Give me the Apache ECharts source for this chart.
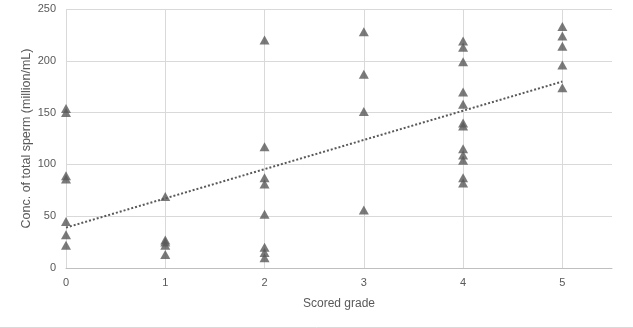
<!DOCTYPE html>
<html>
<head>
<meta charset="utf-8">
<script src="https://cdn.jsdelivr.net/npm/echarts@6/dist/echarts.min.js"></script>
<style>
html,body{margin:0;padding:0;background:#fff;}
#chart{width:633px;height:328px;}
</style>
</head>
<body>
<div id="chart"></div>
<script>
const grades = [0,0,0,0,0,0,0, 1,1,1,1,1, 2,2,2,2,2,2,2,2, 3,3,3,3, 4,4,4,4,4,4,4,4,4,4,4,4, 5,5,5,5,5];
const concentrations = [154,150,89,86,45,32,22, 69,27,25,22,13, 220,117,87,81,52,20,15,10, 228,187,151,56, 219,213,199,170,158,140,137,115,109,104,87,82, 233,224,214,196,174];
const trendX = [0, 5];
const trendY = [39, 180];
const xTitle = 'Scored grade';
const yTitle = 'Conc. of total sperm (million/mL)';

const chart = echarts.init(document.getElementById('chart'), null, {renderer:'canvas'});
const txt = '#595959';
chart.setOption({
  animation:false,
  backgroundColor:'#fff',
  grid:{left:66, top:9, right:21, bottom:60, containLabel:false},
  xAxis:{
    type:'value', min:0, max:5.5, interval:1,
    name:xTitle, nameLocation:'middle', nameGap:30, nameMoveOverlap:false,
    nameTextStyle:{color:txt, fontSize:12, fontFamily:'Liberation Sans'},
    axisLine:{show:true, lineStyle:{color:'#bfbfbf'}},
    axisTick:{show:false},
    axisLabel:{color:txt, fontSize:11, fontFamily:'Liberation Sans', margin:9,
      formatter:v=> (Number.isInteger(v)? String(v):''), showMaxLabel:false},
    splitLine:{show:true, showMaxLine:false, lineStyle:{color:'#d9d9d9'}}
  },
  yAxis:{
    type:'value', min:0, max:250, interval:50,
    name:yTitle, nameLocation:'middle', nameGap:33, nameMoveOverlap:false,
    nameTextStyle:{color:txt, fontSize:12.5, fontFamily:'Liberation Sans'},
    axisLine:{show:false}, axisTick:{show:false},
    axisLabel:{color:txt, fontSize:11, fontFamily:'Liberation Sans', margin:10},
    splitLine:{show:true, lineStyle:{color:'#d9d9d9'}}
  },
  graphic:[{type:'line', shape:{x1:0,y1:327.5,x2:633,y2:327.5}, style:{stroke:'#d9d9d9', lineWidth:1}}],
  series:[
    {
      type:'line', data:trendX.map((x,i)=>[x, trendY[i]]),
      symbol:'none', lineStyle:{color:'#595959', width:2, type:[2,2]}, z:3
    },
    {
      type:'scatter', data:grades.map((g,i)=>[g, concentrations[i]]),
      symbol:'triangle', symbolSize:[10,9],
      itemStyle:{color:'#595959'}, z:4
    }
  ]
});
</script>
</body>
</html>
